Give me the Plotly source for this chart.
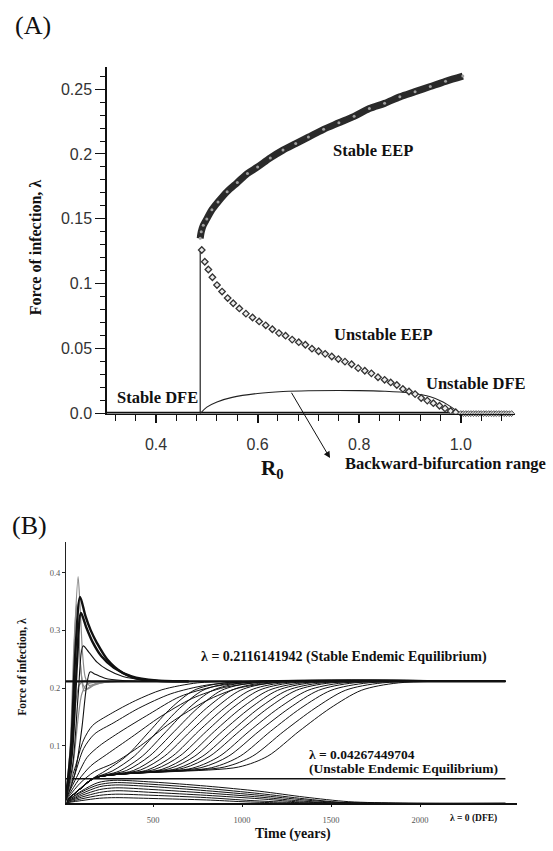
import plotly.graph_objects as go

W, H = 553, 851
SERIF = "Liberation Serif"
SANS = "Liberation Sans"

# ---------------- Panel A: bifurcation diagram (lambda vs R0) ----------------
r0_stable_eep = [0.487, 0.489, 0.493, 0.500, 0.510, 0.522, 0.540, 0.560, 0.580,
                 0.600, 0.625, 0.650, 0.675, 0.700, 0.730, 0.760, 0.790, 0.820,
                 0.850, 0.880, 0.910, 0.940, 0.970, 1.004]
lam_stable_eep = [0.135, 0.140, 0.145, 0.150, 0.157, 0.163, 0.171, 0.178, 0.185,
                  0.190, 0.197, 0.203, 0.208, 0.213, 0.219, 0.224, 0.229, 0.235,
                  0.239, 0.244, 0.248, 0.252, 0.256, 0.260]

r0_unstable_eep = [0.490, 0.496, 0.503, 0.511, 0.520, 0.530, 0.541, 0.552, 0.564,
                   0.577, 0.590, 0.603, 0.616, 0.629, 0.642, 0.655, 0.668, 0.681,
                   0.694, 0.707, 0.720, 0.733, 0.746, 0.759, 0.772, 0.785, 0.798,
                   0.811, 0.824, 0.837, 0.850, 0.862, 0.874, 0.886, 0.898, 0.910,
                   0.922, 0.934, 0.946, 0.958, 0.969, 0.980, 0.990]
lam_unstable_eep = [0.126, 0.117, 0.111, 0.105, 0.099, 0.094, 0.089, 0.085, 0.081,
                    0.077, 0.074, 0.071, 0.068, 0.065, 0.062, 0.060, 0.057, 0.055,
                    0.053, 0.050, 0.048, 0.046, 0.044, 0.042, 0.040, 0.038, 0.035,
                    0.033, 0.031, 0.028, 0.026, 0.024, 0.022, 0.019, 0.017, 0.015,
                    0.012, 0.010, 0.008, 0.006, 0.004, 0.002, 0.001]

r0_unstable_dfe = [1.000, 1.005, 1.010, 1.015, 1.020, 1.025, 1.030, 1.035, 1.040,
                   1.045, 1.050, 1.055, 1.060, 1.065, 1.070, 1.075, 1.080, 1.085,
                   1.090, 1.095, 1.100]
lam_unstable_dfe = [0.0] * len(r0_unstable_dfe)

r0_stable_dfe = [0.3035, 1.000]
lam_stable_dfe = [0.0, 0.0]

r0_threshold = [0.487, 0.487]
lam_threshold = [0.0, 0.126]

r0_range_curve = [0.487, 0.500, 0.520, 0.550, 0.600, 0.650, 0.700, 0.800, 0.850,
                  0.900, 0.940, 0.965, 0.985, 1.000]
lam_range_curve = [0.0, 0.005, 0.009, 0.0125, 0.0155, 0.0170, 0.0176, 0.0177,
                   0.0172, 0.0158, 0.0130, 0.0090, 0.0040, 0.0]

# arrow from the range curve down to its caption
arrow_tail = (0.665, 0.0172)
arrow_head = (0.7425, -0.0343)

a_ytick_vals = [0.0, 0.05, 0.10, 0.15, 0.20, 0.25]
a_ytick_text = ["0.0", "0.05", "0.1", "0.15", "0.2", "0.25"]
a_xtick_vals = [0.4, 0.6, 0.8, 1.0]
a_xtick_text = ["0.4", "0.6", "0.8", "1.0"]

# ---------------- Panel B: trajectories of lambda over time ----------------
lam_stable_ee = 0.2116141942
lam_unstable_ee = 0.04267449704
t_span = [10, 2480]

gray_runs = [
    ([10, 40, 62, 79, 92, 104, 118, 140, 180, 260, 400],
     [0.005, 0.12, 0.31, 0.393, 0.33, 0.26, 0.22, 0.205, 0.207, 0.211, 0.2116]),
    ([10, 35, 55, 70, 82, 94, 108, 130, 170, 250, 400],
     [0.004, 0.10, 0.27, 0.345, 0.29, 0.235, 0.205, 0.198, 0.205, 0.211, 0.2116]),
    ([10, 38, 60, 75, 86, 98, 112, 135, 180, 300],
     [0.003, 0.08, 0.22, 0.31, 0.27, 0.22, 0.195, 0.20, 0.208, 0.2116]),
    ([10, 30, 50, 68, 85, 110, 160, 300],
     [0.002, 0.04, 0.11, 0.18, 0.205, 0.212, 0.2118, 0.2116]),
    ([10, 35, 60, 80, 100, 130, 200, 350],
     [0.002, 0.03, 0.09, 0.15, 0.19, 0.207, 0.211, 0.2116]),
]

black_peaks = [
    ([10, 40, 65, 90, 120, 150, 185, 242, 331, 427, 522, 700],
     [0.008, 0.10, 0.27, 0.358, 0.325, 0.30, 0.278, 0.25, 0.226, 0.215, 0.2125, 0.2116]),
    ([10, 45, 72, 95, 125, 160, 210, 280, 380, 520, 700],
     [0.006, 0.09, 0.24, 0.33, 0.305, 0.28, 0.255, 0.235, 0.22, 0.213, 0.2116]),
    ([10, 50, 80, 107, 140, 185, 242, 331, 450, 600],
     [0.006, 0.07, 0.19, 0.273, 0.262, 0.245, 0.232, 0.22, 0.214, 0.2118]),
    ([10, 60, 100, 125, 146, 175, 230, 330, 500],
     [0.005, 0.05, 0.13, 0.20, 0.228, 0.224, 0.217, 0.213, 0.2118]),
]

early_rises = [
    ([10, 60, 110, 160, 260, 400, 550, 750, 1000],
     [0.010, 0.060, 0.110, 0.135, 0.155, 0.178, 0.197, 0.209, 0.2116]),
    ([10, 60, 110, 170, 280, 420, 600, 800, 1050],
     [0.010, 0.050, 0.095, 0.120, 0.140, 0.165, 0.190, 0.205, 0.2116]),
    ([10, 70, 130, 200, 320, 480, 650, 850, 1100],
     [0.008, 0.045, 0.080, 0.100, 0.125, 0.155, 0.185, 0.203, 0.2116]),
    ([10, 80, 150, 240, 380, 540, 720, 900, 1150],
     [0.006, 0.040, 0.065, 0.085, 0.115, 0.150, 0.182, 0.201, 0.2116]),
    ([10, 90, 170, 280, 430, 600, 800, 980, 1250],
     [0.005, 0.035, 0.055, 0.070, 0.100, 0.140, 0.178, 0.200, 0.2116]),
]

sigmoid_runs = [
    ([10, 90, 170, 230, 350, 480, 600, 730, 900, 2480],
     [0.004, 0.026, 0.045, 0.056, 0.082, 0.125, 0.165, 0.196, 0.209, 0.2116]),
    ([10, 90, 170, 270, 395, 525, 650, 780, 950, 2480],
     [0.004, 0.025, 0.044, 0.056, 0.082, 0.125, 0.165, 0.196, 0.209, 0.2116]),
    ([10, 90, 170, 310, 440, 575, 700, 835, 1010, 2480],
     [0.004, 0.025, 0.044, 0.056, 0.082, 0.125, 0.165, 0.196, 0.209, 0.2116]),
    ([10, 90, 170, 350, 480, 620, 750, 885, 1060, 2480],
     [0.004, 0.025, 0.044, 0.057, 0.082, 0.125, 0.165, 0.196, 0.209, 0.2116]),
    ([10, 90, 170, 390, 525, 665, 800, 940, 1120, 2480],
     [0.004, 0.025, 0.044, 0.057, 0.082, 0.125, 0.165, 0.196, 0.209, 0.2116]),
    ([10, 90, 170, 430, 565, 710, 850, 990, 1170, 2480],
     [0.004, 0.025, 0.044, 0.058, 0.082, 0.125, 0.165, 0.196, 0.209, 0.2116]),
    ([10, 90, 170, 470, 610, 755, 900, 1045, 1230, 2480],
     [0.004, 0.025, 0.044, 0.058, 0.082, 0.125, 0.165, 0.196, 0.209, 0.2116]),
    ([10, 90, 170, 510, 650, 800, 945, 1095, 1280, 2480],
     [0.004, 0.025, 0.044, 0.059, 0.082, 0.125, 0.165, 0.196, 0.209, 0.2116]),
    ([10, 90, 170, 550, 695, 845, 995, 1150, 1340, 2480],
     [0.004, 0.025, 0.044, 0.059, 0.082, 0.125, 0.165, 0.196, 0.209, 0.2116]),
    ([10, 90, 170, 590, 735, 890, 1045, 1200, 1390, 2480],
     [0.004, 0.025, 0.044, 0.060, 0.082, 0.125, 0.165, 0.196, 0.209, 0.2116]),
    ([10, 90, 170, 630, 780, 940, 1095, 1255, 1450, 2480],
     [0.004, 0.025, 0.044, 0.060, 0.082, 0.125, 0.165, 0.196, 0.209, 0.2116]),
    ([10, 90, 170, 670, 820, 985, 1145, 1305, 1500, 2480],
     [0.004, 0.025, 0.044, 0.061, 0.082, 0.125, 0.165, 0.196, 0.209, 0.2116]),
    ([10, 90, 170, 720, 875, 1040, 1205, 1370, 1570, 2480],
     [0.004, 0.025, 0.044, 0.061, 0.082, 0.125, 0.165, 0.196, 0.209, 0.2116]),
    ([10, 90, 170, 770, 925, 1095, 1265, 1430, 1630, 2480],
     [0.004, 0.025, 0.044, 0.062, 0.082, 0.125, 0.165, 0.196, 0.209, 0.2116]),
    ([10, 90, 170, 830, 990, 1160, 1330, 1500, 1710, 2480],
     [0.004, 0.025, 0.044, 0.062, 0.082, 0.125, 0.165, 0.196, 0.209, 0.2116]),
    ([10, 90, 170, 900, 1060, 1235, 1410, 1580, 1790, 2480],
     [0.004, 0.025, 0.044, 0.063, 0.082, 0.125, 0.165, 0.196, 0.209, 0.2116]),
    ([10, 90, 170, 980, 1145, 1320, 1495, 1670, 1880, 2480],
     [0.004, 0.025, 0.044, 0.063, 0.082, 0.125, 0.165, 0.196, 0.209, 0.2116]),
]

decay_runs = [
    ([10, 100, 190, 280, 500, 800, 1100, 1350, 1600, 1900, 2480],
     [0.003, 0.022, 0.036, 0.040, 0.037, 0.030, 0.021, 0.011, 0.003, 0.0005, 0.0]),
    ([10, 100, 190, 280, 500, 800, 1100, 1350, 1550, 1850, 2480],
     [0.003, 0.020, 0.032, 0.036, 0.033, 0.026, 0.017, 0.008, 0.002, 0.0003, 0.0]),
    ([10, 100, 200, 290, 500, 800, 1100, 1350, 1550, 1800, 2480],
     [0.002, 0.017, 0.029, 0.032, 0.029, 0.022, 0.014, 0.006, 0.0015, 0.0002, 0.0]),
    ([10, 100, 200, 290, 500, 800, 1100, 1300, 1500, 1750, 2480],
     [0.002, 0.014, 0.024, 0.027, 0.024, 0.018, 0.011, 0.005, 0.001, 0.0, 0.0]),
    ([10, 100, 200, 290, 500, 800, 1100, 1300, 1500, 1700, 2480],
     [0.002, 0.011, 0.019, 0.022, 0.019, 0.014, 0.008, 0.003, 0.0007, 0.0, 0.0]),
    ([10, 100, 200, 290, 500, 800, 1050, 1250, 1450, 1650, 2480],
     [0.001, 0.008, 0.014, 0.016, 0.014, 0.010, 0.005, 0.002, 0.0003, 0.0, 0.0]),
    ([10, 100, 200, 290, 500, 800, 1000, 1200, 1400, 2480],
     [0.001, 0.005, 0.009, 0.010, 0.0085, 0.006, 0.003, 0.001, 0.0, 0.0]),
]

b_ytick_vals = [0.1, 0.2, 0.3, 0.4]
b_ytick_text = ["0.1", "0.2", "0.3", "0.4"]
b_xtick_vals = [500, 1000, 1500, 2000]
b_xtick_text = ["500", "1000", "1500", "2000"]

fig = go.Figure()

# ---- Panel A traces ----
fig.add_trace(go.Scatter(x=r0_stable_dfe, y=lam_stable_dfe, mode="lines",
                         line=dict(color="#111", width=3.5), cliponaxis=False,
                         xaxis="x", yaxis="y"))
fig.add_trace(go.Scatter(x=r0_threshold, y=lam_threshold, mode="lines",
                         line=dict(color="#222", width=1.2), xaxis="x", yaxis="y"))
fig.add_trace(go.Scatter(x=r0_range_curve, y=lam_range_curve, mode="lines",
                         line=dict(color="#222", width=1.1, shape="spline"),
                         xaxis="x", yaxis="y"))
fig.add_trace(go.Scatter(x=r0_stable_eep, y=lam_stable_eep, mode="lines+markers",
                         line=dict(color="#2a2a2a", width=7, shape="spline", smoothing=0.9),
                         marker=dict(symbol="circle", size=3, color="#a0a0a0"),
                         xaxis="x", yaxis="y"))
fig.add_trace(go.Scatter(x=r0_unstable_eep, y=lam_unstable_eep, mode="markers",
                         marker=dict(symbol="diamond", size=5, color="#ececec",
                                     line=dict(color="#333", width=1.3)),
                         xaxis="x", yaxis="y"))
fig.add_trace(go.Scatter(x=r0_unstable_dfe, y=lam_unstable_dfe, mode="markers",
                         marker=dict(symbol="diamond", size=4.5, color="#cfcfcf",
                                     line=dict(color="#555", width=1)),
                         cliponaxis=False, xaxis="x", yaxis="y"))

# ---- Panel B traces ----
fig.add_trace(go.Scatter(x=t_span, y=[lam_unstable_ee, lam_unstable_ee], mode="lines",
                         line=dict(color="#111", width=1.6), xaxis="x2", yaxis="y2"))
for t, lam in decay_runs:
    fig.add_trace(go.Scatter(x=t, y=lam, mode="lines",
                             line=dict(color="#111", width=1, shape="spline", smoothing=0.8),
                             xaxis="x2", yaxis="y2"))
for t, lam in sigmoid_runs + early_rises:
    fig.add_trace(go.Scatter(x=t, y=lam, mode="lines",
                             line=dict(color="#111", width=1, shape="spline", smoothing=0.8),
                             xaxis="x2", yaxis="y2"))
for t, lam in gray_runs:
    fig.add_trace(go.Scatter(x=t, y=lam, mode="lines",
                             line=dict(color="#8c8c8c", width=1.2, shape="spline", smoothing=0.7),
                             xaxis="x2", yaxis="y2"))
for i, (t, lam) in enumerate(black_peaks):
    fig.add_trace(go.Scatter(x=t, y=lam, mode="lines",
                             line=dict(color="#111", width=2.4 if i < 2 else 1.1,
                                       shape="spline", smoothing=0.8),
                             xaxis="x2", yaxis="y2"))
fig.add_trace(go.Scatter(x=t_span, y=[lam_stable_ee, lam_stable_ee], mode="lines",
                         line=dict(color="#111", width=2.4), xaxis="x2", yaxis="y2"))


def px(x):
    return x / W


def py(y):
    return 1 - y / H


def label(text, x, y, size, xanchor="center", family=SERIF, color="#111", **kw):
    return dict(text=text, x=px(x), y=py(y), xref="paper", yref="paper",
                showarrow=False, xanchor=xanchor, yanchor="middle",
                font=dict(family=family, size=size, color=color), **kw)


annotations = [
    label("(A)", 33, 26, 26),
    label("(B)", 29, 531, 26),
    label("<b>Stable EEP</b>", 373, 152, 16.5),
    label("<b>Unstable EEP</b>", 383, 338, 16.5),
    label("<b>Unstable DFE</b>", 475, 388, 16.5),
    label("<b>Stable DFE</b>", 157, 402, 16.5),
    label("<b>Backward-bifurcation range</b>", 343, 468, 16.5, xanchor="left"),
    label("<b>R<sub>0</sub></b>", 272, 474, 21),
    label("<b>Force of infection, λ</b>", 35, 250, 16, textangle=-90),
    label("<b>λ = 0.2116141942 (Stable Endemic Equilibrium)</b>", 344, 664, 14),
    label("<b>λ = 0.04267449704</b>", 307, 763, 13.5, xanchor="left"),
    label("<b>(Unstable Endemic Equilibrium)</b>", 307, 777, 13.5, xanchor="left"),
    label("<b>λ = 0 (DFE)</b>", 473, 827, 9.5),
    label("<b>Time (years)</b>", 293, 843, 14),
    label("<b>Force of infection, λ</b>", 22, 674, 11.5, textangle=-90),
    dict(x=arrow_head[0], y=arrow_head[1], ax=arrow_tail[0], ay=arrow_tail[1],
         xref="x", yref="y", axref="x", ayref="y", text="", showarrow=True,
         arrowhead=2, arrowsize=1.3, arrowwidth=1, arrowcolor="#111"),
]

fig.update_layout(
    width=W, height=H,
    margin=dict(l=0, r=0, t=0, b=0),
    paper_bgcolor="white", plot_bgcolor="white",
    showlegend=False,
    annotations=annotations,
    xaxis=dict(domain=[107 / W, 515 / W], range=[0.3035, 1.1067], anchor="y",
               showgrid=False, zeroline=False, showline=True, linecolor="#111", linewidth=1,
               tickvals=a_xtick_vals, ticktext=a_xtick_text, ticks="outside",
               ticklen=8, tickwidth=1.5, tickcolor="#111", ticklabelstandoff=8,
               tickfont=dict(family=SANS, size=16, color="#333"),
               minor=dict(dtick=0.04, tick0=0.4, ticks="outside", ticklen=6,
                          tickwidth=1.3, tickcolor="#111")),
    yaxis=dict(domain=[1 - 418 / H, 1 - 68 / H], range=[0, 0.2668], anchor="x",
               showgrid=False, zeroline=False, showline=True, linecolor="#111", linewidth=1.5,
               tickvals=a_ytick_vals, ticktext=a_ytick_text, ticks="outside",
               ticklen=10, tickwidth=1.2, tickcolor="#111",
               tickfont=dict(family=SANS, size=16, color="#333"),
               minor=dict(dtick=0.01, tick0=0, ticks="outside", ticklen=5,
                          tickwidth=1, tickcolor="#111")),
    xaxis2=dict(domain=[66 / W, 517 / W], range=[11, 2545], anchor="y2",
                showgrid=False, zeroline=False, showline=True, linecolor="#111", linewidth=1.5,
                tickvals=b_xtick_vals, ticktext=b_xtick_text, ticks="outside",
                ticklen=2, tickwidth=1, tickcolor="#111", ticklabelstandoff=6,
                tickfont=dict(family=SERIF, size=8.5, color="#555")),
    yaxis2=dict(domain=[1 - 812 / H, 1 - 548 / H], range=[0, 0.4528], anchor="x2",
                showgrid=False, zeroline=False, showline=True, linecolor="#222", linewidth=1,
                tickvals=b_ytick_vals, ticktext=b_ytick_text, ticks="outside",
                ticklen=3, tickwidth=1, tickcolor="#222",
                tickfont=dict(family=SERIF, size=8.5, color="#555")),
)

fig.write_html("out.html")
